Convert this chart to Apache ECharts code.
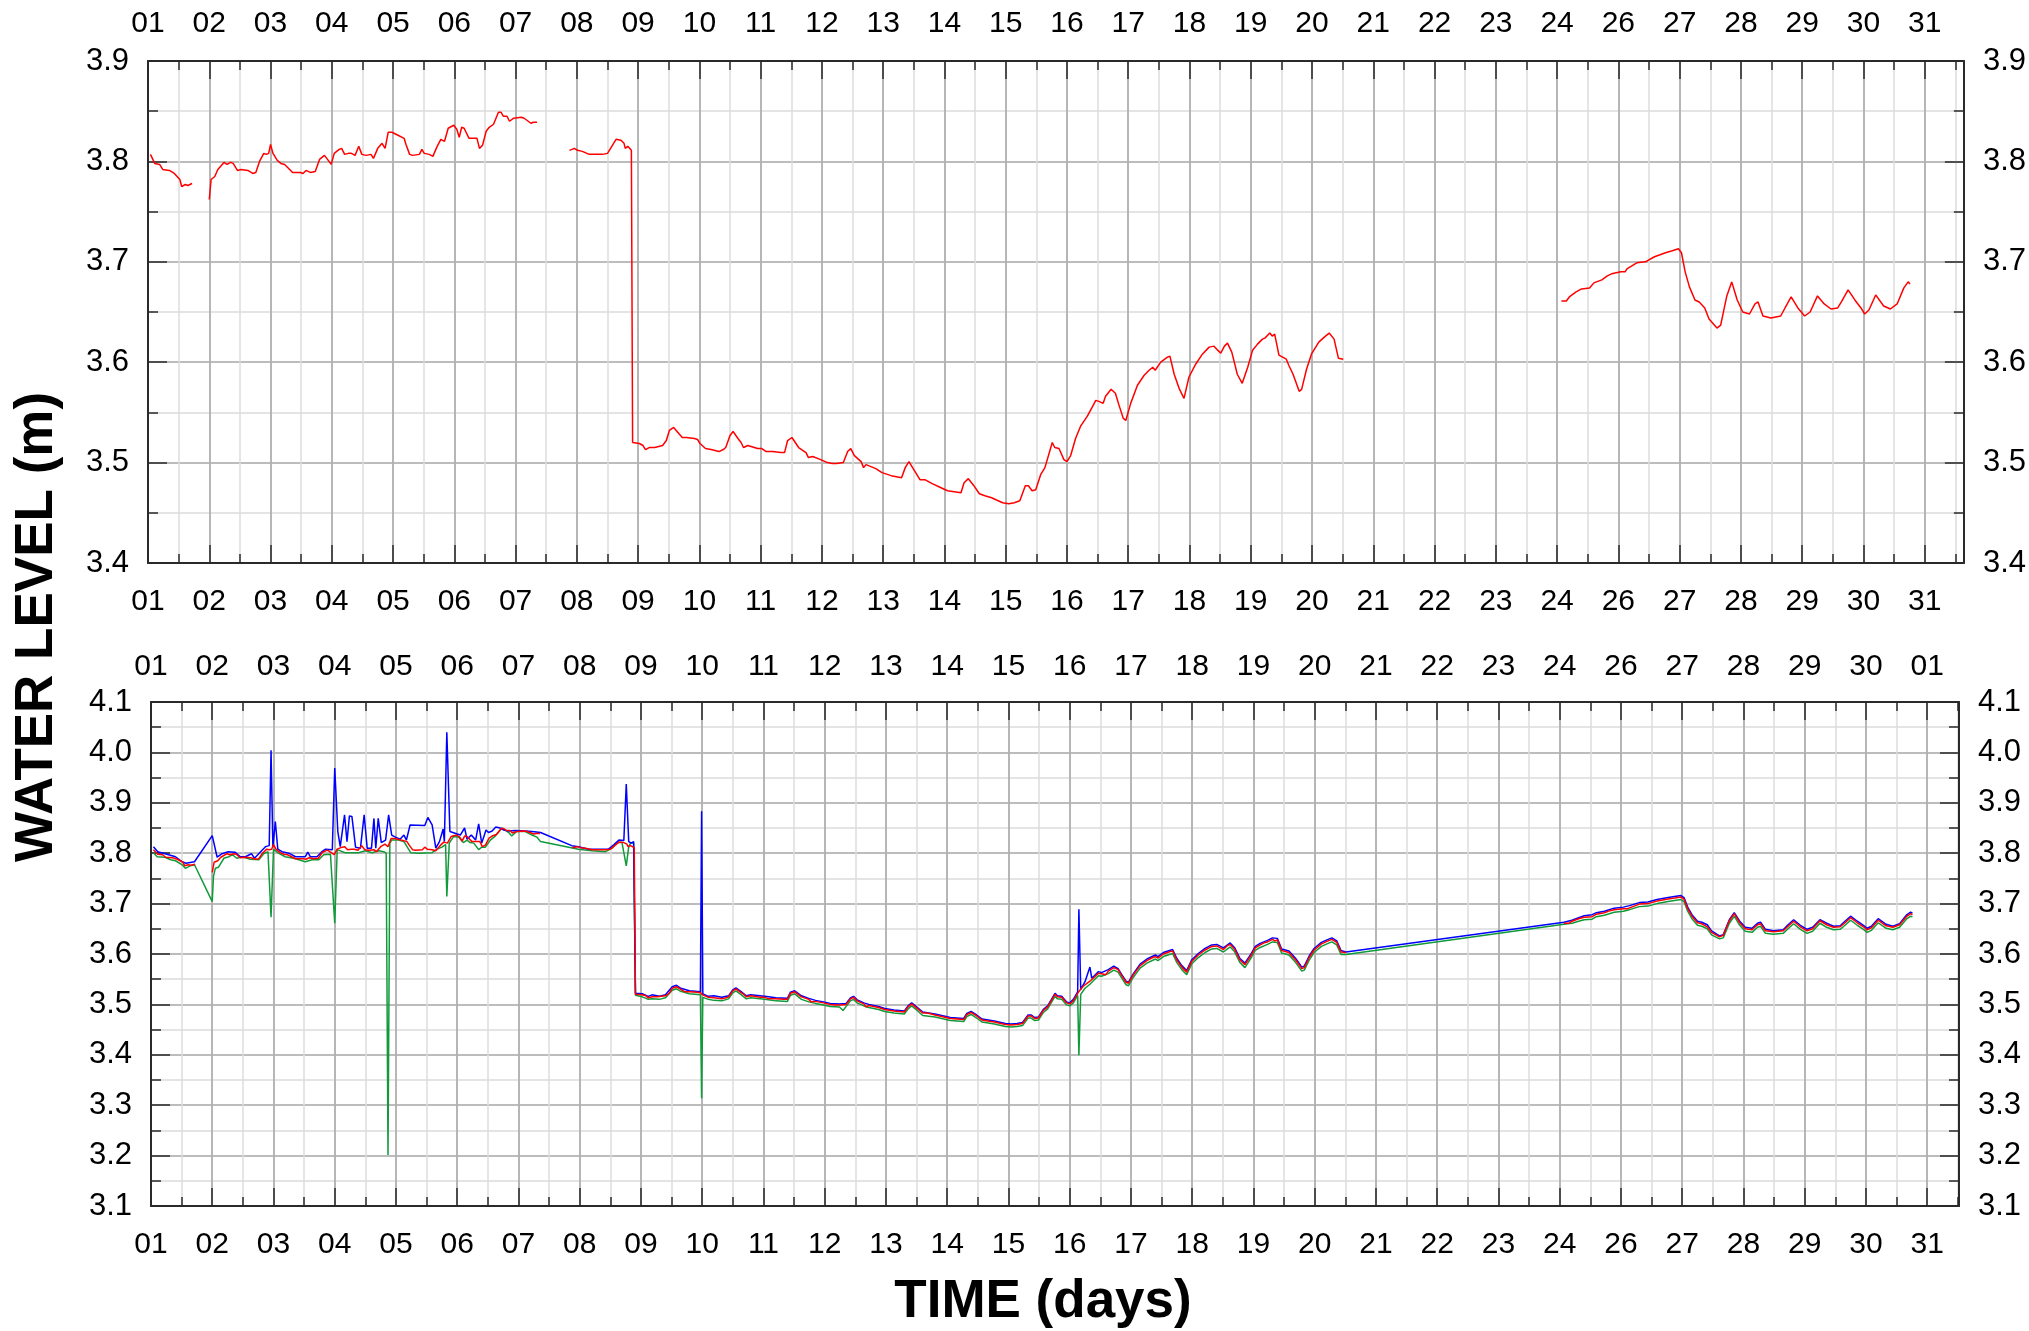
<!DOCTYPE html>
<html><head><meta charset="utf-8">
<script src="https://cdn.jsdelivr.net/npm/echarts@6/dist/echarts.min.js"></script>
<style>html,body{margin:0;padding:0;background:#fff}#c{width:2029px;height:1331px}</style>
</head><body><div id="c"></div>
<script>
// Tick labels of the day axis (one label per day gridline, as printed)
const dayLabels = ['01','02','03','04','05','06','07','08','09','10','11','12','13','14','15','16','17','18','19','20','21','22','23','24','26','27','28','29','30','31'];
const dayLabelsLowerTop = ['01','02','03','04','05','06','07','08','09','10','11','12','13','14','15','16','17','18','19','20','21','22','23','24','26','27','28','29','30','01'];

// Water level (m) vs time (days from first gridline); null = gap in record
const redLevel = [
[0.04,3.807],[0.11,3.798],[0.19,3.797],[0.24,3.792],[0.35,3.791],[0.43,3.788],[0.52,3.782],[0.55,3.775],[0.61,3.777],[0.65,3.776],[0.72,3.778],
null,
[1.00,3.762],[1.03,3.782],[1.09,3.785],[1.14,3.792],[1.24,3.799],[1.29,3.797],[1.35,3.799],[1.39,3.798],[1.46,3.791],[1.52,3.792],[1.63,3.791],[1.71,3.788],[1.76,3.789],[1.82,3.800],[1.89,3.808],[1.93,3.807],[1.97,3.808],[2.00,3.817],[2.04,3.808],[2.11,3.801],[2.17,3.798],[2.23,3.797],[2.28,3.794],[2.36,3.789],[2.49,3.789],[2.53,3.788],[2.58,3.791],[2.65,3.789],[2.73,3.790],[2.80,3.802],[2.88,3.806],[2.93,3.802],[2.99,3.797],[3.04,3.808],[3.12,3.812],[3.16,3.813],[3.21,3.807],[3.27,3.808],[3.32,3.808],[3.38,3.806],[3.44,3.815],[3.49,3.807],[3.56,3.806],[3.64,3.807],[3.68,3.803],[3.75,3.813],[3.82,3.818],[3.85,3.819],[3.87,3.813],[3.92,3.829],[3.98,3.829],[4.08,3.826],[4.18,3.823],[4.21,3.817],[4.27,3.807],[4.32,3.806],[4.43,3.807],[4.47,3.812],[4.51,3.808],[4.59,3.807],[4.65,3.805],[4.72,3.815],[4.78,3.822],[4.84,3.820],[4.90,3.833],[4.99,3.836],[5.04,3.832],[5.08,3.824],[5.12,3.834],[5.16,3.833],[5.24,3.823],[5.37,3.823],[5.41,3.813],[5.46,3.816],[5.52,3.830],[5.57,3.834],[5.64,3.837],[5.72,3.849],[5.76,3.849],[5.80,3.845],[5.86,3.845],[5.90,3.840],[5.92,3.839],[5.97,3.843],[6.09,3.844],[6.14,3.843],[6.25,3.838],[6.29,3.839],[6.35,3.839],
null,
[6.88,3.811],[6.96,3.813],[7.01,3.811],[7.09,3.810],[7.20,3.807],[7.42,3.807],[7.50,3.808],[7.55,3.813],[7.64,3.822],[7.72,3.821],[7.77,3.818],[7.79,3.813],[7.83,3.815],[7.89,3.811],[7.91,3.520],
[8.02,3.519],[8.08,3.517],[8.12,3.513],[8.18,3.515],[8.27,3.515],[8.30,3.514],[8.40,3.517],[8.46,3.522],[8.51,3.532],[8.58,3.535],[8.65,3.530],[8.72,3.525],[8.79,3.525],[8.92,3.524],[8.97,3.523],[9.01,3.519],[9.10,3.514],[9.19,3.513],[9.32,3.511],[9.39,3.513],[9.43,3.515],[9.50,3.527],[9.55,3.531],[9.63,3.524],[9.68,3.520],[9.72,3.515],[9.79,3.517],[9.95,3.514],[10.02,3.514],[10.09,3.511],[10.20,3.511],[10.33,3.510],[10.39,3.510],[10.44,3.522],[10.51,3.525],[10.62,3.515],[10.74,3.510],[10.78,3.505],[10.85,3.506],[10.98,3.503],[11.09,3.500],[11.17,3.499],[11.24,3.499],[11.35,3.500],[11.42,3.511],[11.47,3.514],[11.53,3.507],[11.64,3.501],[11.68,3.495],[11.72,3.498],[11.88,3.494],[11.98,3.490],[12.13,3.487],[12.30,3.485],[12.36,3.495],[12.42,3.501],[12.51,3.492],[12.60,3.483],[12.68,3.483],[12.80,3.479],[12.91,3.476],[13.05,3.472],[13.27,3.470],[13.32,3.480],[13.39,3.484],[13.48,3.477],[13.57,3.469],[13.66,3.467],[13.77,3.465],[13.84,3.463],[13.95,3.460],[14.05,3.459],[14.14,3.460],[14.23,3.462],[14.32,3.477],[14.37,3.477],[14.43,3.472],[14.49,3.473],[14.57,3.488],[14.64,3.495],[14.76,3.520],[14.80,3.515],[14.87,3.514],[14.95,3.503],[15.00,3.501],[15.06,3.507],[15.14,3.524],[15.22,3.536],[15.33,3.546],[15.41,3.555],[15.47,3.562],[15.52,3.561],[15.59,3.559],[15.63,3.566],[15.72,3.573],[15.79,3.569],[15.85,3.557],[15.92,3.544],[15.96,3.542],[16.04,3.559],[16.15,3.577],[16.26,3.587],[16.34,3.592],[16.40,3.595],[16.44,3.592],[16.53,3.600],[16.64,3.605],[16.68,3.606],[16.75,3.588],[16.83,3.574],[16.91,3.564],[16.99,3.585],[17.10,3.598],[17.21,3.608],[17.32,3.615],[17.40,3.616],[17.46,3.612],[17.51,3.609],[17.57,3.616],[17.62,3.619],[17.69,3.610],[17.78,3.588],[17.86,3.579],[17.95,3.595],[18.03,3.612],[18.11,3.618],[18.19,3.623],[18.23,3.624],[18.31,3.629],[18.35,3.626],[18.39,3.628],[18.46,3.607],[18.58,3.603],[18.62,3.597],[18.69,3.588],[18.79,3.571],[18.83,3.573],[18.91,3.593],[18.99,3.608],[19.11,3.620],[19.20,3.625],[19.28,3.629],[19.36,3.623],[19.43,3.604],[19.51,3.603],
null,
[23.07,3.661],[23.15,3.661],[23.20,3.665],[23.31,3.670],[23.40,3.673],[23.53,3.674],[23.60,3.679],[23.73,3.682],[23.82,3.686],[23.89,3.688],[24.04,3.690],[24.11,3.690],[24.14,3.693],[24.30,3.699],[24.44,3.700],[24.59,3.705],[24.77,3.709],[24.88,3.711],[24.98,3.713],[25.03,3.709],[25.09,3.690],[25.16,3.675],[25.25,3.662],[25.32,3.660],[25.41,3.654],[25.48,3.643],[25.61,3.634],[25.67,3.637],[25.77,3.666],[25.85,3.680],[25.94,3.662],[26.03,3.650],[26.14,3.648],[26.23,3.658],[26.28,3.660],[26.36,3.646],[26.49,3.644],[26.65,3.646],[26.72,3.654],[26.82,3.665],[26.93,3.654],[27.04,3.646],[27.13,3.650],[27.25,3.666],[27.36,3.658],[27.47,3.653],[27.58,3.654],[27.64,3.660],[27.75,3.672],[27.86,3.662],[27.96,3.654],[28.02,3.648],[28.09,3.652],[28.20,3.667],[28.33,3.656],[28.44,3.653],[28.55,3.658],[28.66,3.674],[28.73,3.680],[28.76,3.678]
];

const blueLevel = [
[0.04,3.813],[0.11,3.803],[0.23,3.799],[0.40,3.793],[0.51,3.783],[0.57,3.780],[0.71,3.783],[1.00,3.835],[1.08,3.792],[1.16,3.799],[1.26,3.803],[1.37,3.802],[1.46,3.793],[1.54,3.793],[1.64,3.799],[1.69,3.790],[1.79,3.803],[1.87,3.813],[1.93,3.815],[1.96,4.004],[1.99,3.812],[2.03,3.863],[2.07,3.808],[2.14,3.803],[2.25,3.800],[2.36,3.793],[2.52,3.793],[2.56,3.802],[2.60,3.793],[2.71,3.793],[2.79,3.803],[2.85,3.808],[2.96,3.807],[3.00,3.969],[3.05,3.843],[3.09,3.813],[3.16,3.876],[3.20,3.823],[3.24,3.874],[3.28,3.873],[3.34,3.812],[3.42,3.810],[3.48,3.876],[3.53,3.810],[3.60,3.810],[3.64,3.869],[3.67,3.810],[3.71,3.869],[3.76,3.821],[3.83,3.826],[3.88,3.876],[3.93,3.836],[3.99,3.832],[4.07,3.828],[4.13,3.836],[4.17,3.826],[4.23,3.856],[4.47,3.855],[4.52,3.871],[4.59,3.856],[4.65,3.810],[4.71,3.823],[4.77,3.848],[4.79,3.823],[4.83,4.040],[4.88,3.843],[5.00,3.838],[5.05,3.836],[5.12,3.850],[5.16,3.828],[5.23,3.836],[5.30,3.826],[5.35,3.858],[5.40,3.820],[5.47,3.846],[5.51,3.841],[5.57,3.844],[5.63,3.852],[5.70,3.850],[5.76,3.846],[5.84,3.844],[5.95,3.845],[6.11,3.844],[6.22,3.843],[6.36,3.841],[6.87,3.815],[6.98,3.813],[7.15,3.808],[7.47,3.808],[7.56,3.817],[7.64,3.826],[7.72,3.825],[7.76,3.937],[7.80,3.823],[7.84,3.820],[7.88,3.823],
[7.91,3.522],[8.02,3.521],[8.12,3.516],[8.18,3.519],[8.30,3.516],[8.40,3.519],[8.51,3.535],[8.58,3.538],[8.65,3.532],[8.79,3.527],[8.97,3.525],[8.99,3.883],[9.01,3.521],[9.10,3.516],[9.19,3.517],[9.32,3.514],[9.43,3.517],[9.50,3.529],[9.55,3.533],[9.63,3.526],[9.72,3.517],[9.79,3.519],[10.02,3.516],[10.20,3.513],[10.39,3.512],[10.44,3.524],[10.51,3.527],[10.62,3.517],[10.74,3.512],[10.85,3.508],[10.98,3.505],[11.09,3.502],[11.24,3.501],[11.35,3.502],[11.42,3.513],[11.47,3.516],[11.53,3.509],[11.64,3.503],[11.72,3.500],[11.88,3.496],[11.98,3.492],[12.13,3.489],[12.30,3.487],[12.36,3.497],[12.42,3.503],[12.51,3.494],[12.60,3.485],[12.80,3.481],[12.91,3.478],[13.05,3.474],[13.27,3.472],[13.32,3.482],[13.39,3.486],[13.48,3.479],[13.57,3.471],[13.77,3.467],[13.95,3.462],[14.05,3.461],[14.14,3.462],[14.23,3.464],[14.32,3.479],[14.37,3.479],[14.43,3.474],[14.49,3.475],[14.57,3.490],[14.64,3.497],[14.76,3.522],[14.80,3.517],[14.87,3.516],[14.95,3.505],[15.00,3.503],[15.06,3.510],[15.13,3.525],[15.15,3.689],[15.18,3.530],[15.25,3.545],[15.33,3.574],[15.36,3.552],[15.41,3.558],[15.47,3.565],[15.52,3.563],[15.63,3.569],[15.72,3.576],[15.79,3.571],[15.85,3.559],[15.92,3.546],[15.96,3.544],[16.04,3.561],[16.15,3.580],[16.26,3.590],[16.40,3.598],[16.44,3.595],[16.53,3.603],[16.68,3.609],[16.75,3.591],[16.83,3.577],[16.91,3.567],[16.99,3.588],[17.10,3.601],[17.21,3.611],[17.32,3.618],[17.40,3.619],[17.51,3.612],[17.62,3.622],[17.69,3.613],[17.78,3.591],[17.86,3.582],[17.95,3.598],[18.03,3.615],[18.11,3.621],[18.23,3.627],[18.31,3.632],[18.39,3.631],[18.46,3.610],[18.58,3.606],[18.69,3.591],[18.79,3.574],[18.83,3.576],[18.91,3.596],[18.99,3.611],[19.11,3.623],[19.20,3.628],[19.28,3.632],[19.36,3.626],[19.43,3.607],[19.51,3.604],
[23.07,3.663],[23.20,3.667],[23.31,3.672],[23.40,3.676],[23.53,3.678],[23.60,3.682],[23.73,3.685],[23.89,3.691],[24.04,3.693],[24.14,3.696],[24.30,3.702],[24.44,3.703],[24.59,3.708],[24.77,3.712],[24.98,3.716],[25.03,3.712],[25.09,3.693],[25.16,3.678],[25.25,3.665],[25.32,3.663],[25.41,3.658],[25.48,3.646],[25.61,3.636],[25.67,3.638],[25.77,3.668],[25.85,3.682],[25.94,3.665],[26.03,3.653],[26.14,3.651],[26.23,3.661],[26.28,3.663],[26.36,3.649],[26.49,3.646],[26.65,3.648],[26.72,3.657],[26.82,3.668],[26.93,3.657],[27.04,3.649],[27.13,3.653],[27.25,3.668],[27.36,3.661],[27.47,3.655],[27.58,3.656],[27.64,3.663],[27.75,3.675],[27.86,3.665],[27.96,3.657],[28.02,3.651],[28.09,3.655],[28.20,3.670],[28.33,3.659],[28.44,3.655],[28.55,3.660],[28.66,3.677],[28.73,3.683],[28.76,3.681]
];

const greenLevel = [
[0.04,3.801],[0.10,3.793],[0.23,3.792],[0.32,3.787],[0.40,3.785],[0.51,3.777],[0.56,3.770],[0.64,3.775],[0.71,3.777],[1.00,3.704],[1.02,3.754],[1.05,3.770],[1.10,3.772],[1.19,3.790],[1.27,3.793],[1.33,3.797],[1.40,3.790],[1.49,3.793],[1.62,3.788],[1.76,3.787],[1.84,3.799],[1.91,3.803],[1.96,3.673],[2.00,3.808],[2.08,3.800],[2.19,3.793],[2.33,3.790],[2.52,3.783],[2.63,3.787],[2.74,3.787],[2.82,3.797],[2.93,3.798],[3.00,3.661],[3.04,3.807],[3.17,3.801],[3.39,3.801],[3.50,3.805],[3.61,3.801],[3.72,3.805],[3.80,3.803],[3.84,3.800],[3.87,3.201],[3.90,3.820],[3.93,3.826],[4.04,3.826],[4.13,3.823],[4.24,3.801],[4.37,3.800],[4.59,3.801],[4.67,3.808],[4.75,3.812],[4.81,3.817],[4.83,3.714],[4.87,3.820],[4.94,3.833],[5.02,3.832],[5.10,3.821],[5.16,3.826],[5.21,3.821],[5.27,3.820],[5.35,3.807],[5.40,3.812],[5.46,3.812],[5.54,3.826],[5.62,3.834],[5.73,3.850],[5.84,3.841],[5.89,3.834],[5.97,3.843],[6.11,3.843],[6.22,3.836],[6.30,3.832],[6.36,3.823],[6.98,3.808],[7.20,3.805],[7.42,3.803],[7.53,3.810],[7.61,3.821],[7.69,3.821],[7.76,3.775],[7.80,3.813],[7.83,3.820],[7.88,3.820],
[7.91,3.518],[8.02,3.515],[8.12,3.510],[8.18,3.511],[8.30,3.510],[8.40,3.513],[8.51,3.528],[8.58,3.531],[8.65,3.526],[8.79,3.521],[8.97,3.519],[8.99,3.314],[9.01,3.514],[9.10,3.510],[9.19,3.508],[9.32,3.507],[9.43,3.511],[9.50,3.523],[9.55,3.527],[9.63,3.520],[9.72,3.511],[9.79,3.513],[10.02,3.510],[10.20,3.507],[10.39,3.506],[10.44,3.518],[10.51,3.521],[10.62,3.510],[10.74,3.505],[10.85,3.502],[10.98,3.499],[11.09,3.496],[11.24,3.495],[11.30,3.488],[11.35,3.496],[11.42,3.507],[11.47,3.510],[11.53,3.503],[11.64,3.497],[11.72,3.494],[11.88,3.490],[11.98,3.486],[12.13,3.483],[12.30,3.481],[12.36,3.491],[12.42,3.497],[12.51,3.488],[12.60,3.478],[12.80,3.475],[12.91,3.472],[13.05,3.468],[13.27,3.466],[13.32,3.476],[13.39,3.480],[13.48,3.473],[13.57,3.465],[13.77,3.461],[13.95,3.456],[14.05,3.455],[14.14,3.456],[14.23,3.458],[14.32,3.473],[14.37,3.473],[14.43,3.468],[14.49,3.469],[14.57,3.484],[14.64,3.491],[14.76,3.516],[14.80,3.511],[14.87,3.510],[14.95,3.499],[15.00,3.497],[15.06,3.503],[15.13,3.518],[15.15,3.399],[15.18,3.520],[15.25,3.532],[15.33,3.540],[15.41,3.550],[15.47,3.557],[15.52,3.556],[15.63,3.561],[15.72,3.568],[15.79,3.564],[15.85,3.552],[15.92,3.539],[15.96,3.537],[16.04,3.554],[16.15,3.572],[16.26,3.582],[16.40,3.590],[16.44,3.587],[16.53,3.595],[16.68,3.601],[16.75,3.583],[16.83,3.569],[16.91,3.559],[16.99,3.580],[17.10,3.593],[17.21,3.603],[17.32,3.610],[17.40,3.611],[17.51,3.604],[17.62,3.614],[17.69,3.605],[17.78,3.583],[17.86,3.573],[17.95,3.590],[18.03,3.607],[18.11,3.613],[18.23,3.619],[18.31,3.624],[18.39,3.623],[18.46,3.602],[18.58,3.598],[18.69,3.583],[18.79,3.566],[18.83,3.568],[18.91,3.588],[18.99,3.603],[19.11,3.615],[19.20,3.620],[19.28,3.624],[19.36,3.618],[19.43,3.599],[19.51,3.599],
[23.07,3.659],[23.20,3.661],[23.31,3.665],[23.40,3.668],[23.53,3.669],[23.60,3.674],[23.73,3.677],[23.89,3.683],[24.04,3.685],[24.14,3.688],[24.30,3.694],[24.44,3.695],[24.59,3.700],[24.77,3.704],[24.98,3.708],[25.03,3.704],[25.09,3.685],[25.16,3.670],[25.25,3.657],[25.32,3.655],[25.41,3.650],[25.48,3.638],[25.61,3.630],[25.67,3.632],[25.77,3.661],[25.85,3.675],[25.94,3.657],[26.03,3.645],[26.14,3.643],[26.23,3.653],[26.28,3.655],[26.36,3.641],[26.49,3.639],[26.65,3.641],[26.72,3.649],[26.82,3.660],[26.93,3.649],[27.04,3.641],[27.13,3.645],[27.25,3.661],[27.36,3.653],[27.47,3.648],[27.58,3.649],[27.64,3.655],[27.75,3.667],[27.86,3.657],[27.96,3.649],[28.02,3.643],[28.09,3.647],[28.20,3.662],[28.33,3.651],[28.44,3.648],[28.55,3.653],[28.66,3.669],[28.73,3.675],[28.76,3.674]
];

const AX = '#2a2a2a';
const FONT = 'Liberation Sans';
const toXY = arr => arr.map(p => p === null ? ['-', '-'] : p);
const dayFmt = labels => v => {
  const i = Math.round(v);
  return (Math.abs(v - i) < 1e-6 && i >= 0 && i < labels.length) ? labels[i] : '';
};

function xAxisSet(g, max, botLabels, topLabels, botMargin, topMargin) {
  const base = {type: 'value', gridIndex: g, min: 0, max: max, silent: true};
  const minor = pos => Object.assign({}, base, {
    position: pos, interval: 0.5,
    axisLine: {show: false, onZero: false},
    axisLabel: {show: false},
    axisTick: {show: true, inside: true, length: 9, lineStyle: {color: AX, width: 1.5}},
    splitLine: {show: pos === 'bottom', lineStyle: {color: '#dcdcdc', width: 1.5}}
  });
  const major = (pos, labels, margin) => Object.assign({}, base, {
    position: pos, interval: 1,
    axisLine: {show: true, onZero: false, lineStyle: {color: AX, width: 2}},
    axisTick: {show: true, inside: true, length: 18, lineStyle: {color: AX, width: 1.5}},
    axisLabel: {show: true, margin: margin, fontSize: 30, color: '#000', fontFamily: FONT, formatter: dayFmt(labels)},
    splitLine: {show: pos === 'bottom', lineStyle: {color: '#a6a6a6', width: 1.5}}
  });
  return [minor('bottom'), minor('top'), major('bottom', botLabels, botMargin), major('top', topLabels, topMargin)];
}

function yAxisSet(g, min, max) {
  const common = {
    type: 'value', gridIndex: g, min: min, max: max, interval: 0.1, silent: true,
    axisLine: {show: true, onZero: false, lineStyle: {color: AX, width: 2}},
    axisTick: {show: true, inside: true, length: 19, lineStyle: {color: AX, width: 1.5}},
    minorTick: {show: true, splitNumber: 2, length: 10, lineStyle: {color: AX, width: 1.5}},
    axisLabel: {show: true, fontSize: 31, color: '#000', fontFamily: FONT, margin: 19, formatter: v => v.toFixed(1)}
  };
  return [
    Object.assign({}, common, {position: 'left',
      splitLine: {show: true, lineStyle: {color: '#a6a6a6', width: 1.5}},
      minorSplitLine: {show: true, lineStyle: {color: '#dcdcdc', width: 1.5}}}),
    Object.assign({}, common, {position: 'right', splitLine: {show: false}})
  ];
}

const lineSeries = (name, data, color, xi, yi) => ({
  name: name, type: 'line', data: toXY(data), xAxisIndex: xi, yAxisIndex: yi,
  showSymbol: false, symbol: 'none', connectNulls: false, silent: true,
  lineStyle: {color: color, width: 1.5}, z: 5
});

const chart = echarts.init(document.getElementById('c'), null, {renderer: 'canvas'});
chart.setOption({
  animation: false,
  backgroundColor: '#fff',
  grid: [
    {left: 148, right: 63, top: 61, height: 502},
    {left: 151, right: 70, top: 702, height: 504}
  ],
  xAxis: [].concat(
    xAxisSet(0, 29.64, dayLabels, dayLabels, 24, 22),
    xAxisSet(1, 29.52, dayLabels, dayLabelsLowerTop, 24, 20)
  ),
  yAxis: [].concat(yAxisSet(0, 3.4, 3.9), yAxisSet(1, 3.1, 4.1)),
  series: [
    lineSeries('upper', redLevel, '#ff0000', 2, 0),
    lineSeries('green', greenLevel, '#119a3a', 6, 2),
    lineSeries('blue', blueLevel, '#0000ff', 6, 2),
    lineSeries('red', redLevel, '#ff0000', 6, 2)
  ],
  graphic: [
    {type: 'text', x: 37, y: 627, rotation: Math.PI / 2,
     style: {text: 'WATER LEVEL (m)', font: 'bold 53px "Liberation Sans"', fill: '#000', textAlign: 'center', textVerticalAlign: 'middle'}},
    {type: 'text', x: 1043, y: 1302,
     style: {text: 'TIME (days)', font: 'bold 53px "Liberation Sans"', fill: '#000', textAlign: 'center', textVerticalAlign: 'middle'}}
  ]
});
</script>
</body></html>
